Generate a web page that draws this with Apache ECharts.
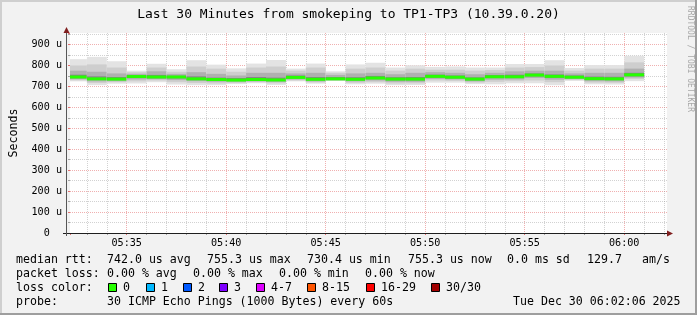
<!DOCTYPE html>
<html><head><meta charset="utf-8">
<script src="https://cdn.jsdelivr.net/npm/echarts@6/dist/echarts.min.js"></script>
<style>html,body{margin:0;padding:0;background:#f2f2f2}#c{width:697px;height:315px}</style>
</head><body><div id="c"></div><script>
// ---- data (values in microseconds) ----
const chartTitle = 'Last 30 Minutes from smokeping to TP1-TP3 (10.39.0.20)';
const times = ['05:33','05:34','05:35','05:36','05:37','05:38','05:39','05:40','05:41','05:42',
  '05:43','05:44','05:45','05:46','05:47','05:48','05:49','05:50','05:51','05:52',
  '05:53','05:54','05:55','05:56','05:57','05:58','05:59','06:00','06:01'];
const medianRtt = [745,736,735,747,745,745,736,733,730.4,733,731,743,734,736,734,740,735,735,748,744,735,746,746,754,748,744,737,736,755.3];
const smokeMax  = [830,841,820,775,808,782,825,804,786,809,826,785,809,772,805,813,790,801,793,795,790,790,807,807,825,788,802,802,846];
const smokeHi2  = [800,805,790,768,790,770,795,785,770,790,795,775,790,765,785,790,775,785,780,780,775,778,790,792,800,775,785,785,815];
const smokeHi3  = [775,770,762,760,772,760,768,760,752,765,765,762,765,755,762,765,758,765,768,765,758,765,772,775,775,762,765,765,785];
const smokeHi4  = [756,748,745,752,755,751,748,742,740,745,742,752,745,745,744,750,744,745,756,752,743,754,756,762,757,752,747,746,765];
const smokeLo4  = [739,731,730,740,739,738,731,728,726,728,726,738,729,732,729,735,729,729,742,738,729,740,740,748,741,739,731,730,748];
const smokeLo3  = [734,724,725,733,734,730,725,722,722,724,721,733,724,730,724,728,722,722,736,733,724,732,733,740,732,735,725,724,742];
const smokeLo2  = [729,716,720,724,728,720,716,714,716,720,715,728,719,728,717,720,714,715,728,726,718,722,725,728,720,731,718,717,735];
const smokeMin  = [724,706,713,714,720,709,706,706,711,715,707,724,713,726,710,713,706,707,718,718,711,710,715,715,706,726,710,709,725];
const yTicks = [0,100,200,300,400,500,600,700,800,900];
const xTickLabels = ['05:35','05:40','05:45','05:50','05:55','06:00'];
const legendRtt = ['median rtt:','742.0 us avg','755.3 us max','730.4 us min','755.3 us now','0.0 ms sd','129.7','am/s'];
const legendLoss = ['packet loss:','0.00 % avg','0.00 % max','0.00 % min','0.00 % now'];
const lossLabels = ['0','1','2','3','4-7','8-15','16-29','30/30'];
const lossColors = ['#26ff00','#00b8ff','#0059ff','#7e00ff','#dd00ff','#ff5500','#ff0000','#a10000'];
const probeText = ['probe:','30 ICMP Echo Pings (1000 Bytes) every 60s','Tue Dec 30 06:02:06 2025'];
const watermark = 'RRDTOOL / TOBI OETIKER';

// ---- helpers ----
const MONO = 'DejaVu Sans Mono';
const toMin = s => { const [h,m] = s.split(':').map(Number); return h*60+m-300; };
const fmtMin = v => { const t = Math.round(300+v); const h = Math.floor(t/60), m = t%60; return String(h).padStart(2,'0')+':'+String(m).padStart(2,'0'); };
const seriesData = times.map((t,i)=>[toMin(t), smokeMin[i], smokeLo2[i], smokeLo3[i], smokeLo4[i], medianRtt[i], smokeHi4[i], smokeHi3[i], smokeHi2[i], smokeMax[i]]);
const bandColors = ['#e3e3e3','#cecece','#b0b0b0','#868686'];

const chart = echarts.init(document.getElementById('c'), null, {renderer:'canvas'});

const graphics = [];
// borders
graphics.push({type:'rect', shape:{x:0,y:0,width:697,height:2}, style:{fill:'#cfcfcf'}, silent:true});
graphics.push({type:'rect', shape:{x:0,y:0,width:2,height:315}, style:{fill:'#cfcfcf'}, silent:true});
graphics.push({type:'rect', shape:{x:695,y:0,width:2,height:315}, style:{fill:'#9e9e9e'}, silent:true});
graphics.push({type:'rect', shape:{x:0,y:313,width:697,height:2}, style:{fill:'#9e9e9e'}, silent:true});
// axis extensions and arrows
graphics.push({type:'line', shape:{x1:63,y1:233.5,x2:669,y2:233.5}, style:{stroke:'#1f1f1f',lineWidth:1}, z:10});
graphics.push({type:'line', shape:{x1:66.5,y1:236,x2:66.5,y2:30}, style:{stroke:'#555555',lineWidth:1}, z:10});
graphics.push({type:'polygon', shape:{points:[[66.5,27],[63.5,33],[69.5,33]]}, style:{fill:'#801f1f'}, z:11});
graphics.push({type:'polygon', shape:{points:[[673,233.5],[667,230.5],[667,236.5]]}, style:{fill:'#801f1f'}, z:11});
// watermark
graphics.push({type:'text', x:690, y:59, rotation:-Math.PI/2, style:{text:watermark, font:'8px "'+MONO+'"', fill:'#a8a8a8', align:'center', verticalAlign:'middle'}});
// legend rows
const legendFont = '11.6px "'+MONO+'"';
const addText = (txt,x,y) => graphics.push({type:'text', x:x, y:y, style:{text:txt, font:legendFont, fill:'#000', align:'left', verticalAlign:'middle'}});
const rttX = [16,107,207,307,408,507,587,642];
legendRtt.forEach((t,i)=>addText(t, rttX[i], 259.5));
const lossX = [16,107,193,279,365];
legendLoss.forEach((t,i)=>addText(t, lossX[i], 273.5));
addText('loss color:', 16, 287.5);
const swX = [108,146,183,219,256,307,366,431];
lossLabels.forEach((t,i)=>{
  graphics.push({type:'rect', shape:{x:swX[i]+0.5,y:283.5,width:8,height:8}, style:{fill:lossColors[i], stroke:'#000', lineWidth:1}});
  addText(t, swX[i]+15, 287.5);
});
addText(probeText[0], 16, 301.5);
addText(probeText[1], 107, 301.5);
addText(probeText[2], 513, 301.5);

const option = {
  backgroundColor:'#f2f2f2',
  animation:false,
  title:{text:chartTitle, left:'center', top:3, textStyle:{fontFamily:MONO, fontSize:13, fontWeight:'normal', color:'#000'}},
  grid:{left:67, top:33, width:600, height:200, show:true, backgroundColor:'#ffffff', borderWidth:0, containLabel:false},
  xAxis:{type:'value', min:32.15, max:62.15, splitNumber:6,
    axisLine:{show:false},
    axisTick:{show:true, length:2, lineStyle:{color:'rgba(222,79,79,0.8)'}},
    minorTick:{show:true, splitNumber:5, length:2, lineStyle:{color:'rgba(143,143,143,0.8)'}},
    axisLabel:{showMinLabel:false, showMaxLabel:false, margin:5, fontFamily:MONO, fontSize:10.15, color:'#000',
      formatter:v=>{const s=fmtMin(v); return xTickLabels.indexOf(s)>=0?s:'';}},
    splitLine:{show:true, showMinLine:false, showMaxLine:false, lineStyle:{color:'rgba(222,79,79,0.45)', type:[1,1], width:1}},
    minorSplitLine:{show:true, lineStyle:{color:'rgba(143,143,143,0.4)', type:[1,1], width:1}}
  },
  yAxis:{type:'value', min:0, max:955, interval:100,
    axisLine:{show:false},
    axisTick:{show:true, length:2, lineStyle:{color:'rgba(222,79,79,0.8)'}},
    minorTick:{show:true, splitNumber:2, length:2, lineStyle:{color:'rgba(143,143,143,0.8)'}},
    axisLabel:{showMaxLabel:false, margin:8, fontFamily:MONO, fontSize:10.15, color:'#000',
      formatter:v=> yTicks.indexOf(v)<0 ? '' : (v===0 ? '0  ' : v+' u')},
    splitLine:{show:true, showMinLine:false, showMaxLine:false, lineStyle:{color:'rgba(222,79,79,0.45)', type:[1,1], width:1}},
    minorSplitLine:{show:true, lineStyle:{color:'rgba(143,143,143,0.4)', type:[1,1], width:1}},
    name:'Seconds', nameLocation:'middle', nameGap:50, nameRotate:90,
    nameTextStyle:{fontFamily:MONO, fontSize:11.6, color:'#000'}
  },
  series:[{
    type:'custom', clip:true,
    encode:{x:0, y:[1,9]},
    data:seriesData,
    renderItem:(params, api)=>{
      const t = api.value(0);
      const xa = api.coord([t-1,0])[0], xb = api.coord([t,0])[0];
      const yv = v => api.coord([t, v])[1];
      const children = [];
      for (let b=0;b<4;b++){
        const lo = api.value(1+b), hi = api.value(9-b);
        const y1 = yv(hi), y2 = yv(lo);
        children.push({type:'rect', shape:{x:xa, y:y1, width:xb-xa, height:y2-y1}, style:{fill:bandColors[b]}});
      }
      const ym = yv(api.value(5));
      children.push({type:'rect', shape:{x:xa, y:ym-1.5, width:xb-xa, height:3}, style:{fill:lossColors[0]}});
      return {type:'group', children};
    }
  }],
  graphic:graphics
};
chart.setOption(option);
</script></body></html>
